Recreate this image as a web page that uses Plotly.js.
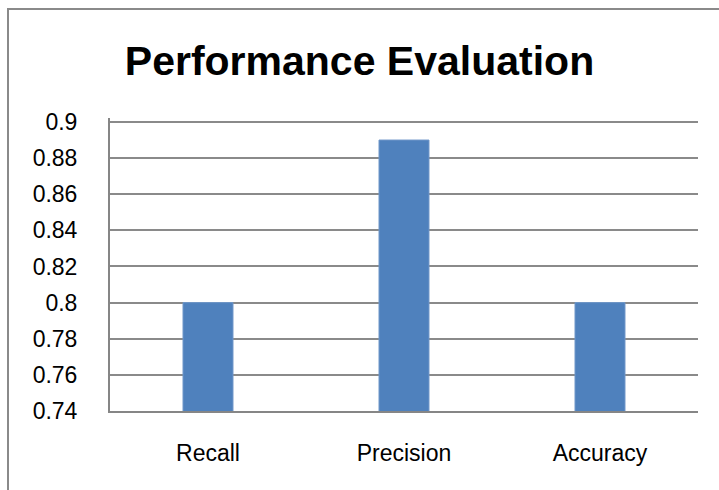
<!DOCTYPE html>
<html>
<head>
<meta charset="utf-8">
<script src="https://cdn.plot.ly/plotly-3.0.1.min.js"></script>
<style>
html,body{margin:0;padding:0;background:#fff;overflow:hidden;}
#wrap{position:relative;width:719px;height:490px;}
#chart{position:absolute;left:0;top:0;width:719px;height:490px;}
#frame{position:absolute;left:7px;top:8px;width:800px;height:600px;border:2px solid #8a8a8a;pointer-events:none;box-sizing:border-box;}
</style>
</head>
<body>
<div id="wrap"><div id="chart"></div><div id="frame"></div></div>
<script>
const categories = ["Recall", "Precision", "Accuracy"];
const values = [0.80, 0.89, 0.80];
const yTickVals = [0.74, 0.76, 0.78, 0.80, 0.82, 0.84, 0.86, 0.88, 0.90];
const yTickText = ["0.74", "0.76", "0.78", "0.8", "0.82", "0.84", "0.86", "0.88", "0.9"];

const trace = {
  type: "bar",
  x: categories,
  y: values,
  marker: {color: "#4F81BD", line: {color: "#6f97c9", width: 1}},
  hoverinfo: "skip"
};

const layout = {
  width: 719, height: 490,
  margin: {l: 110, r: 21, t: 118, b: 79},
  paper_bgcolor: "rgba(0,0,0,0)",
  plot_bgcolor: "#ffffff",
  showlegend: false,
  bargap: 0.745,
  font: {family: "Liberation Sans, Arial, sans-serif", color: "#000000"},
  title: {
    text: "<b>Performance Evaluation</b>",
    font: {family: "Liberation Sans, Arial, sans-serif", size: 41, color: "#000000"},
    x: 0.5, xref: "container", xanchor: "center",
    y: 1 - 61/490, yref: "container", yanchor: "middle"
  },
  xaxis: {
    type: "category",
    showgrid: false,
    showline: true, linecolor: "#868686", linewidth: 2,
    ticks: "", tickfont: {size: 23},
    ticklabelstandoff: 20,
    zeroline: false, fixedrange: true
  },
  yaxis: {
    range: [0.74, 0.9022],
    tickvals: yTickVals, ticktext: yTickText,
    showgrid: true, gridcolor: "#8a8a8a", gridwidth: 2,
    showline: true, linecolor: "#868686", linewidth: 2,
    ticks: "", tickfont: {size: 23},
    ticklabelstandoff: 26,
    zeroline: false, fixedrange: true
  }
};

Plotly.newPlot("chart", [trace], layout, {staticPlot: true, displayModeBar: false});
</script>
</body>
</html>
